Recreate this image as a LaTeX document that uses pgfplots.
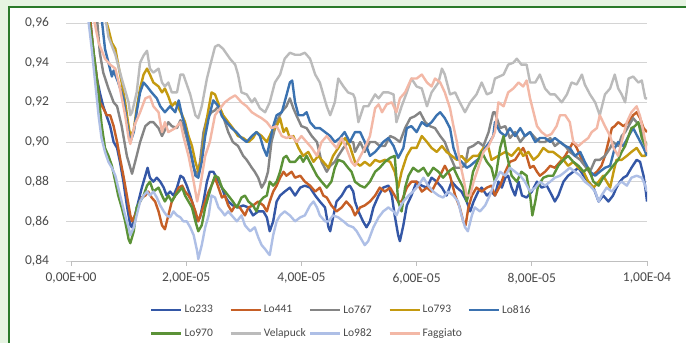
\documentclass[border=0pt]{standalone}
\usepackage{fontspec}
\setmainfont{Carlito}
\usepackage{pgfplots}
\pgfplotsset{compat=1.18}

\definecolor{bggreen}{HTML}{E6F4E2}
\definecolor{framegreen}{HTML}{2A7A2A}
\definecolor{gridgray}{HTML}{D4D4D4}
\definecolor{axisgray}{HTML}{BFBFBF}
\definecolor{labelgray}{HTML}{4A4A4A}
\definecolor{cLoA}{HTML}{3457A6}
\definecolor{cLoB}{HTML}{C65F26}
\definecolor{cLoC}{HTML}{858585}
\definecolor{cLoD}{HTML}{C49A10}
\definecolor{cLoE}{HTML}{3B72B0}
\definecolor{cLoF}{HTML}{5B9237}
\definecolor{cVel}{HTML}{BBBBBB}
\definecolor{cLoG}{HTML}{AEBFE6}
\definecolor{cFag}{HTML}{F3B8A6}

\pgfplotsset{every axis plot/.append style={line width=2.4pt, line join=round, no marks}}

\begin{document}
\begin{tikzpicture}
\useasboundingbox (0pt,0pt) rectangle (686pt,343pt);
\clip (0pt,0pt) rectangle (686pt,343pt);
\fill[bggreen] (0pt,0pt) rectangle (686pt,343pt);
\draw[framegreen, line width=2pt, fill=white] (9pt,-10pt) rectangle (700pt,335.5pt);
\begin{axis}[
  width=576pt, height=238pt, scale only axis,
  at={(71pt,82pt)}, anchor=south west,
  xmin=0, xmax=10, ymin=0.84, ymax=0.96,
  axis x line*=bottom, axis y line*=left,
  y axis line style={draw=none},
  x axis line style={draw=axisgray, line width=0.8pt},
  xtick={0,2,4,6,8,10},
  xticklabels={{0,00E+00},{2,00E-05},{4,00E-05},{6,00E-05},{8,00E-05},{1,00E-04}},
  ytick={0.84,0.86,0.88,0.90,0.92,0.94,0.96},
  yticklabels={{0,84},{0,86},{0,88},{0,90},{0,92},{0,94},{0,96}},
  tick align=outside, major tick length=4.5pt,
  xtick style={draw=axisgray, line width=0.8pt},
  ytick style={draw=gridgray, line width=0.8pt},
  ymajorgrids, grid style={draw=gridgray, line width=0.8pt},
  tick label style={font=\fontsize{13.5}{15}\selectfont, text=labelgray},
  xticklabel style={yshift=-4pt},
  yticklabel style={xshift=-14pt},
  legend columns=5,
  legend cell align=left,
  legend image code/.code={\draw[#1] (0pt,0pt) -- (30pt,0pt);},
  legend style={draw=none, fill=none, inner sep=0pt,
    at={(axis description cs:0.137,-0.177)}, anchor=north west,
    font=\fontsize{11.5}{13}\selectfont, text=labelgray,
    row sep=10pt,
    /tikz/every even column/.append style={column sep=0pt}},
]

% Lo233
\addplot[cLoA] coordinates {
(0,1.0)(0.33,0.963)(0.39,0.945)(0.45,0.932)(0.50,0.925)(0.56,0.918)(0.62,0.913)(0.68,0.908)(0.74,0.900)(0.80,0.897)(0.85,0.890)(0.91,0.880)(0.97,0.868)(1.03,0.858)(1.06,0.857)(1.11,0.863)(1.17,0.870)(1.23,0.877)(1.29,0.883)(1.33,0.887)(1.37,0.882)(1.43,0.880)(1.49,0.882)(1.55,0.880)(1.61,0.877)(1.66,0.873)(1.72,0.875)(1.78,0.873)(1.84,0.877)(1.90,0.883)(1.95,0.882)(2.01,0.878)(2.07,0.873)(2.13,0.867)(2.19,0.860)(2.24,0.862)(2.30,0.870)(2.36,0.880)(2.41,0.885)(2.47,0.885)(2.53,0.882)(2.62,0.877)(2.67,0.873)(2.73,0.870)(2.81,0.868)(2.90,0.867)(2.99,0.868)(3.08,0.867)(3.16,0.863)(3.25,0.865)(3.34,0.865)(3.40,0.862)(3.45,0.855)(3.51,0.860)(3.57,0.870)(3.63,0.873)(3.71,0.875)(3.80,0.877)(3.89,0.873)(3.98,0.877)(4.06,0.878)(4.15,0.877)(4.24,0.873)(4.32,0.870)(4.41,0.867)(4.47,0.857)(4.50,0.855)(4.55,0.862)(4.61,0.870)(4.70,0.873)(4.78,0.877)(4.84,0.878)(4.90,0.875)(4.93,0.870)(4.99,0.865)(5.07,0.860)(5.13,0.857)(5.19,0.860)(5.25,0.867)(5.34,0.873)(5.42,0.877)(5.51,0.878)(5.57,0.873)(5.62,0.863)(5.68,0.853)(5.71,0.850)(5.77,0.858)(5.83,0.868)(5.91,0.873)(6.00,0.880)(6.09,0.878)(6.18,0.877)(6.26,0.882)(6.35,0.880)(6.44,0.877)(6.52,0.873)(6.61,0.880)(6.70,0.877)(6.78,0.875)(6.87,0.870)(6.93,0.865)(6.99,0.870)(7.07,0.875)(7.13,0.877)(7.22,0.873)(7.30,0.875)(7.36,0.873)(7.42,0.880)(7.48,0.877)(7.54,0.882)(7.59,0.883)(7.65,0.877)(7.71,0.873)(7.77,0.880)(7.83,0.873)(7.91,0.872)(8.00,0.875)(8.09,0.880)(8.17,0.877)(8.26,0.878)(8.35,0.873)(8.40,0.870)(8.46,0.873)(8.55,0.880)(8.63,0.883)(8.72,0.885)(8.81,0.887)(8.90,0.883)(8.98,0.880)(9.07,0.877)(9.16,0.870)(9.24,0.873)(9.33,0.870)(9.41,0.873)(9.47,0.877)(9.53,0.880)(9.59,0.882)(9.65,0.883)(9.73,0.887)(9.82,0.891)(9.88,0.890)(9.94,0.883)(9.98,0.875)(10.0,0.870)
};
\addlegendentry{\makebox[43pt][l]{Lo233}}

% Lo441
\addplot[cLoB] coordinates {
(0,1.0)(0.33,0.963)(0.39,0.945)(0.45,0.932)(0.50,0.920)(0.56,0.917)(0.62,0.9135)(0.68,0.9135)(0.74,0.908)(0.80,0.900)(0.85,0.892)(0.91,0.883)(0.97,0.873)(1.03,0.863)(1.06,0.860)(1.11,0.863)(1.17,0.868)(1.23,0.872)(1.29,0.873)(1.34,0.875)(1.40,0.872)(1.46,0.870)(1.52,0.865)(1.58,0.858)(1.63,0.856)(1.69,0.863)(1.75,0.870)(1.81,0.873)(1.87,0.877)(1.93,0.878)(1.98,0.875)(2.04,0.873)(2.10,0.870)(2.16,0.865)(2.21,0.860)(2.27,0.865)(2.33,0.870)(2.39,0.875)(2.44,0.878)(2.50,0.882)(2.56,0.877)(2.62,0.872)(2.67,0.873)(2.73,0.868)(2.79,0.865)(2.85,0.868)(2.93,0.867)(3.02,0.863)(3.08,0.867)(3.16,0.868)(3.25,0.870)(3.34,0.868)(3.40,0.865)(3.45,0.870)(3.51,0.875)(3.57,0.878)(3.63,0.882)(3.69,0.885)(3.74,0.883)(3.83,0.885)(3.89,0.882)(3.98,0.883)(4.06,0.880)(4.15,0.878)(4.24,0.875)(4.32,0.877)(4.38,0.873)(4.44,0.872)(4.52,0.868)(4.61,0.865)(4.70,0.867)(4.78,0.870)(4.87,0.867)(4.93,0.863)(5.02,0.867)(5.10,0.868)(5.19,0.870)(5.28,0.873)(5.36,0.877)(5.45,0.875)(5.54,0.877)(5.62,0.873)(5.68,0.870)(5.74,0.870)(5.83,0.877)(5.91,0.880)(6.00,0.880)(6.09,0.875)(6.18,0.877)(6.26,0.875)(6.35,0.880)(6.44,0.885)(6.49,0.888)(6.58,0.883)(6.67,0.873)(6.75,0.867)(6.81,0.860)(6.85,0.858)(6.90,0.867)(6.96,0.873)(7.04,0.877)(7.13,0.875)(7.22,0.877)(7.30,0.878)(7.36,0.873)(7.45,0.878)(7.54,0.885)(7.62,0.890)(7.71,0.891)(7.80,0.895)(7.85,0.897)(7.91,0.893)(7.97,0.887)(8.03,0.888)(8.09,0.885)(8.14,0.883)(8.23,0.885)(8.32,0.888)(8.40,0.887)(8.49,0.890)(8.58,0.893)(8.66,0.897)(8.72,0.900)(8.78,0.897)(8.87,0.891)(8.95,0.887)(9.04,0.883)(9.13,0.885)(9.21,0.888)(9.27,0.893)(9.33,0.900)(9.39,0.907)(9.44,0.908)(9.50,0.910)(9.59,0.908)(9.68,0.910)(9.76,0.9135)(9.82,0.915)(9.88,0.912)(9.94,0.907)(10.0,0.905)
};
\addlegendentry{\makebox[43pt][l]{Lo441}}

% Lo767
\addplot[cLoC] coordinates {
(0,1.02)(0.45,0.963)(0.50,0.945)(0.56,0.935)(0.65,0.927)(0.74,0.920)(0.80,0.918)(0.88,0.908)(0.97,0.893)(1.06,0.884)(1.14,0.893)(1.20,0.900)(1.29,0.908)(1.37,0.910)(1.43,0.910)(1.52,0.907)(1.58,0.903)(1.63,0.906)(1.69,0.910)(1.75,0.908)(1.84,0.907)(1.90,0.911)(1.95,0.908)(2.01,0.902)(2.07,0.895)(2.13,0.887)(2.19,0.883)(2.24,0.890)(2.30,0.905)(2.36,0.912)(2.44,0.915)(2.50,0.916)(2.56,0.918)(2.64,0.913)(2.73,0.905)(2.81,0.900)(2.90,0.898)(2.99,0.893)(3.05,0.891)(3.14,0.887)(3.19,0.885)(3.25,0.882)(3.31,0.877)(3.37,0.880)(3.42,0.885)(3.48,0.900)(3.57,0.910)(3.65,0.915)(3.74,0.918)(3.80,0.922)(3.86,0.917)(3.92,0.913)(4.00,0.908)(4.09,0.907)(4.18,0.903)(4.27,0.900)(4.35,0.890)(4.44,0.885)(4.50,0.888)(4.58,0.890)(4.64,0.893)(4.73,0.897)(4.81,0.900)(4.90,0.900)(4.93,0.895)(5.02,0.900)(5.10,0.895)(5.19,0.900)(5.28,0.900)(5.36,0.898)(5.45,0.898)(5.54,0.903)(5.62,0.902)(5.71,0.900)(5.80,0.907)(5.89,0.912)(5.97,0.913)(6.06,0.915)(6.15,0.910)(6.23,0.908)(6.32,0.907)(6.41,0.903)(6.49,0.900)(6.58,0.893)(6.67,0.887)(6.75,0.887)(6.84,0.888)(6.90,0.897)(6.98,0.898)(7.07,0.900)(7.16,0.898)(7.25,0.905)(7.33,0.915)(7.36,0.915)(7.45,0.907)(7.54,0.908)(7.62,0.902)(7.71,0.905)(7.80,0.900)(7.88,0.903)(7.97,0.905)(8.06,0.902)(8.14,0.900)(8.23,0.900)(8.32,0.902)(8.40,0.898)(8.49,0.900)(8.58,0.898)(8.66,0.895)(8.75,0.893)(8.84,0.891)(8.92,0.888)(9.01,0.885)(9.10,0.891)(9.18,0.891)(9.27,0.893)(9.36,0.897)(9.41,0.900)(9.50,0.898)(9.56,0.903)(9.62,0.905)(9.68,0.908)(9.76,0.912)(9.82,0.910)(9.88,0.908)(9.94,0.902)(10.0,0.898)
};
\addlegendentry{\makebox[43pt][l]{Lo767}}

% Lo793
\addplot[cLoD] coordinates {
(0,1.03)(0.59,0.963)(0.65,0.957)(0.71,0.950)(0.77,0.947)(0.82,0.939)(0.88,0.930)(0.94,0.920)(1.0,0.908)(1.03,0.903)(1.09,0.906)(1.14,0.917)(1.20,0.927)(1.26,0.934)(1.32,0.937)(1.37,0.934)(1.43,0.930)(1.52,0.928)(1.58,0.925)(1.63,0.927)(1.69,0.923)(1.75,0.918)(1.81,0.920)(1.87,0.917)(1.93,0.9135)(1.98,0.910)(2.04,0.903)(2.10,0.898)(2.16,0.890)(2.21,0.885)(2.27,0.892)(2.33,0.907)(2.39,0.917)(2.44,0.925)(2.50,0.924)(2.59,0.917)(2.64,0.9135)(2.73,0.910)(2.81,0.907)(2.90,0.903)(2.99,0.902)(3.08,0.900)(3.16,0.902)(3.22,0.905)(3.31,0.903)(3.40,0.900)(3.48,0.905)(3.57,0.908)(3.63,0.912)(3.69,0.905)(3.74,0.907)(3.80,0.902)(3.86,0.903)(3.95,0.897)(4.03,0.893)(4.12,0.895)(4.21,0.890)(4.29,0.893)(4.38,0.890)(4.47,0.887)(4.55,0.893)(4.64,0.897)(4.70,0.900)(4.76,0.902)(4.84,0.898)(4.93,0.890)(5.02,0.888)(5.10,0.890)(5.19,0.888)(5.28,0.891)(5.36,0.890)(5.45,0.891)(5.54,0.890)(5.62,0.885)(5.68,0.877)(5.74,0.885)(5.83,0.893)(5.91,0.897)(6.00,0.897)(6.09,0.903)(6.18,0.900)(6.26,0.897)(6.35,0.895)(6.44,0.898)(6.52,0.895)(6.61,0.893)(6.70,0.891)(6.78,0.893)(6.87,0.890)(6.98,0.893)(7.07,0.893)(7.16,0.897)(7.25,0.897)(7.30,0.891)(7.42,0.893)(7.54,0.895)(7.65,0.893)(7.77,0.897)(7.85,0.893)(7.94,0.895)(8.03,0.891)(8.11,0.893)(8.20,0.897)(8.29,0.895)(8.37,0.895)(8.46,0.893)(8.55,0.891)(8.63,0.888)(8.72,0.890)(8.81,0.887)(8.90,0.885)(8.98,0.880)(9.07,0.877)(9.16,0.880)(9.24,0.883)(9.30,0.880)(9.36,0.877)(9.42,0.885)(9.47,0.891)(9.56,0.891)(9.65,0.893)(9.73,0.895)(9.82,0.897)(9.91,0.893)(9.97,0.893)(10.0,0.896)
};
\addlegendentry{\makebox[43pt][l]{Lo793}}

% Lo816
\addplot[cLoE] coordinates {
(0,1.03)(0.53,0.963)(0.59,0.947)(0.65,0.940)(0.71,0.933)(0.74,0.936)(0.82,0.930)(0.91,0.922)(0.97,0.910)(1.03,0.900)(1.09,0.905)(1.14,0.915)(1.20,0.925)(1.26,0.930)(1.32,0.928)(1.40,0.925)(1.49,0.922)(1.55,0.918)(1.63,0.915)(1.72,0.918)(1.81,0.915)(1.87,0.921)(1.93,0.913)(1.98,0.908)(2.04,0.900)(2.10,0.892)(2.16,0.883)(2.21,0.882)(2.27,0.890)(2.33,0.903)(2.39,0.912)(2.47,0.921)(2.56,0.918)(2.62,0.913)(2.70,0.910)(2.79,0.907)(2.87,0.905)(2.96,0.902)(3.05,0.900)(3.14,0.903)(3.22,0.905)(3.28,0.903)(3.34,0.897)(3.40,0.893)(3.45,0.900)(3.51,0.908)(3.57,0.9135)(3.66,0.915)(3.74,0.9235)(3.80,0.930)(3.84,0.931)(3.89,0.920)(3.95,0.9135)(4.03,0.9135)(4.09,0.915)(4.15,0.910)(4.24,0.907)(4.32,0.907)(4.41,0.905)(4.50,0.903)(4.58,0.900)(4.67,0.902)(4.75,0.905)(4.84,0.900)(4.93,0.905)(5.02,0.905)(5.10,0.900)(5.19,0.893)(5.28,0.895)(5.34,0.897)(5.42,0.900)(5.51,0.902)(5.60,0.898)(5.68,0.892)(5.77,0.897)(5.83,0.907)(5.91,0.908)(6.00,0.905)(6.09,0.910)(6.18,0.908)(6.26,0.910)(6.35,0.9135)(6.41,0.915)(6.49,0.912)(6.58,0.907)(6.64,0.897)(6.70,0.892)(6.78,0.890)(6.87,0.887)(6.93,0.888)(7.01,0.890)(7.10,0.892)(7.19,0.897)(7.27,0.900)(7.33,0.903)(7.36,0.910)(7.45,0.905)(7.54,0.903)(7.62,0.907)(7.71,0.903)(7.80,0.907)(7.88,0.903)(7.97,0.905)(8.06,0.900)(8.14,0.902)(8.23,0.902)(8.32,0.900)(8.40,0.902)(8.49,0.900)(8.58,0.898)(8.66,0.897)(8.75,0.893)(8.84,0.895)(8.92,0.890)(9.01,0.885)(9.10,0.883)(9.18,0.885)(9.27,0.887)(9.36,0.888)(9.44,0.897)(9.50,0.900)(9.59,0.898)(9.68,0.903)(9.76,0.907)(9.85,0.902)(9.94,0.897)(10.0,0.893)
};
\addlegendentry{\makebox[43pt][l]{Lo816}}

% Lo970
\addplot[cLoF] coordinates {
(0,1.0)(0.31,0.963)(0.36,0.953)(0.42,0.939)(0.48,0.924)(0.53,0.909)(0.59,0.897)(0.65,0.893)(0.71,0.888)(0.77,0.880)(0.82,0.873)(0.88,0.867)(0.94,0.860)(1.0,0.851)(1.03,0.849)(1.09,0.855)(1.14,0.867)(1.20,0.870)(1.26,0.873)(1.32,0.878)(1.37,0.880)(1.43,0.875)(1.52,0.877)(1.58,0.873)(1.63,0.870)(1.69,0.873)(1.75,0.870)(1.81,0.873)(1.87,0.875)(1.93,0.877)(1.98,0.873)(2.04,0.870)(2.10,0.867)(2.16,0.860)(2.21,0.855)(2.27,0.858)(2.33,0.867)(2.39,0.873)(2.44,0.878)(2.50,0.883)(2.56,0.882)(2.62,0.877)(2.73,0.873)(2.81,0.870)(2.88,0.867)(2.96,0.872)(3.02,0.873)(3.08,0.870)(3.16,0.868)(3.22,0.865)(3.28,0.870)(3.34,0.872)(3.40,0.873)(3.45,0.880)(3.51,0.878)(3.57,0.880)(3.63,0.885)(3.69,0.892)(3.74,0.893)(3.80,0.890)(3.89,0.890)(3.98,0.893)(4.03,0.890)(4.09,0.893)(4.18,0.888)(4.27,0.883)(4.35,0.880)(4.44,0.877)(4.52,0.880)(4.58,0.887)(4.64,0.891)(4.73,0.890)(4.81,0.887)(4.87,0.885)(4.93,0.880)(5.02,0.878)(5.10,0.877)(5.19,0.880)(5.28,0.885)(5.36,0.887)(5.45,0.890)(5.54,0.892)(5.62,0.893)(5.68,0.870)(5.74,0.865)(5.80,0.877)(5.86,0.883)(5.94,0.887)(6.03,0.885)(6.12,0.887)(6.20,0.883)(6.29,0.887)(6.38,0.885)(6.46,0.882)(6.55,0.885)(6.64,0.887)(6.72,0.882)(6.81,0.877)(6.87,0.870)(6.93,0.877)(6.98,0.885)(7.07,0.891)(7.13,0.895)(7.22,0.890)(7.30,0.887)(7.36,0.880)(7.45,0.897)(7.51,0.903)(7.57,0.893)(7.65,0.883)(7.74,0.880)(7.82,0.885)(7.91,0.883)(7.97,0.873)(8.01,0.863)(8.06,0.870)(8.11,0.878)(8.20,0.882)(8.29,0.883)(8.37,0.883)(8.46,0.888)(8.55,0.891)(8.63,0.893)(8.72,0.890)(8.81,0.888)(8.90,0.885)(8.98,0.887)(9.07,0.880)(9.16,0.878)(9.24,0.882)(9.33,0.885)(9.41,0.888)(9.50,0.891)(9.56,0.895)(9.62,0.898)(9.68,0.903)(9.73,0.907)(9.79,0.908)(9.85,0.910)(9.91,0.902)(9.97,0.898)(10.0,0.900)
};
\addlegendentry{\makebox[43pt][l]{Lo970}}

% Velapuck
\addplot[cVel] coordinates {
(0,1.05)(0.60,0.962)(0.65,0.953)(0.77,0.944)(0.88,0.932)(1.0,0.920)(1.03,0.9135)(1.06,0.915)(1.14,0.925)(1.20,0.940)(1.26,0.9436)(1.32,0.946)(1.37,0.937)(1.43,0.935)(1.52,0.937)(1.58,0.930)(1.63,0.928)(1.69,0.930)(1.75,0.925)(1.84,0.925)(1.90,0.934)(1.95,0.934)(2.01,0.929)(2.07,0.924)(2.16,0.9135)(2.21,0.912)(2.27,0.918)(2.36,0.932)(2.42,0.939)(2.50,0.948)(2.56,0.949)(2.64,0.947)(2.76,0.942)(2.85,0.939)(2.90,0.934)(2.96,0.925)(3.05,0.924)(3.14,0.920)(3.19,0.922)(3.28,0.917)(3.37,0.915)(3.45,0.920)(3.54,0.930)(3.63,0.934)(3.71,0.942)(3.80,0.945)(3.89,0.944)(3.98,0.944)(4.06,0.945)(4.15,0.942)(4.24,0.934)(4.32,0.930)(4.38,0.924)(4.44,0.918)(4.50,0.9135)(4.58,0.920)(4.64,0.932)(4.73,0.928)(4.81,0.925)(4.90,0.924)(4.93,0.922)(4.99,0.910)(5.08,0.918)(5.16,0.918)(5.28,0.924)(5.34,0.922)(5.42,0.925)(5.51,0.925)(5.60,0.924)(5.65,0.910)(5.74,0.918)(5.83,0.925)(5.91,0.932)(6.00,0.928)(6.09,0.927)(6.18,0.918)(6.26,0.925)(6.38,0.930)(6.44,0.937)(6.49,0.934)(6.58,0.924)(6.67,0.925)(6.75,0.920)(6.84,0.915)(6.93,0.920)(7.04,0.924)(7.13,0.930)(7.22,0.924)(7.30,0.925)(7.36,0.932)(7.51,0.934)(7.59,0.939)(7.68,0.940)(7.74,0.942)(7.82,0.939)(7.91,0.939)(7.97,0.930)(8.06,0.930)(8.14,0.934)(8.23,0.927)(8.32,0.924)(8.40,0.924)(8.52,0.920)(8.61,0.924)(8.69,0.930)(8.78,0.929)(8.87,0.934)(8.92,0.929)(9.01,0.924)(9.10,0.920)(9.18,0.9135)(9.27,0.924)(9.36,0.927)(9.44,0.934)(9.50,0.927)(9.56,0.924)(9.62,0.920)(9.68,0.932)(9.76,0.933)(9.85,0.930)(9.91,0.931)(9.97,0.922)(10.0,0.922)
};
\addlegendentry{\makebox[43pt][l]{Velapuck}}

% Lo982
\addplot[cLoG] coordinates {
(0,1.0)(0.30,0.962)(0.36,0.947)(0.42,0.930)(0.48,0.913)(0.53,0.902)(0.59,0.895)(0.65,0.890)(0.71,0.887)(0.77,0.883)(0.82,0.877)(0.88,0.870)(0.94,0.863)(1.0,0.857)(1.03,0.853)(1.09,0.857)(1.14,0.863)(1.20,0.870)(1.26,0.873)(1.32,0.875)(1.37,0.873)(1.43,0.875)(1.49,0.872)(1.55,0.868)(1.61,0.865)(1.66,0.863)(1.72,0.862)(1.78,0.865)(1.84,0.863)(1.90,0.862)(1.95,0.860)(2.01,0.860)(2.07,0.857)(2.13,0.853)(2.19,0.845)(2.21,0.841)(2.27,0.848)(2.33,0.857)(2.39,0.863)(2.44,0.873)(2.50,0.872)(2.56,0.867)(2.62,0.865)(2.67,0.863)(2.73,0.865)(2.79,0.863)(2.88,0.860)(2.96,0.863)(3.02,0.858)(3.11,0.855)(3.19,0.857)(3.25,0.852)(3.31,0.848)(3.37,0.846)(3.42,0.844)(3.45,0.843)(3.51,0.853)(3.57,0.860)(3.63,0.863)(3.71,0.865)(3.80,0.863)(3.89,0.860)(3.98,0.862)(4.06,0.863)(4.15,0.868)(4.21,0.870)(4.27,0.867)(4.32,0.863)(4.41,0.860)(4.47,0.860)(4.55,0.863)(4.64,0.862)(4.73,0.860)(4.81,0.858)(4.90,0.857)(4.96,0.855)(5.02,0.852)(5.10,0.848)(5.16,0.850)(5.25,0.857)(5.34,0.862)(5.42,0.865)(5.51,0.867)(5.60,0.865)(5.65,0.863)(5.71,0.867)(5.77,0.870)(5.86,0.873)(5.94,0.875)(6.03,0.878)(6.12,0.882)(6.20,0.878)(6.29,0.875)(6.38,0.873)(6.46,0.872)(6.55,0.875)(6.64,0.873)(6.72,0.870)(6.78,0.863)(6.84,0.857)(6.89,0.855)(6.96,0.863)(7.01,0.867)(7.10,0.865)(7.19,0.868)(7.27,0.873)(7.36,0.880)(7.45,0.885)(7.54,0.883)(7.62,0.887)(7.71,0.885)(7.80,0.883)(7.88,0.880)(7.97,0.875)(8.06,0.877)(8.14,0.880)(8.23,0.878)(8.32,0.880)(8.40,0.882)(8.49,0.883)(8.58,0.885)(8.66,0.887)(8.75,0.885)(8.84,0.883)(8.92,0.880)(9.01,0.878)(9.10,0.875)(9.16,0.870)(9.21,0.873)(9.30,0.877)(9.39,0.875)(9.47,0.878)(9.56,0.880)(9.65,0.878)(9.73,0.882)(9.82,0.883)(9.91,0.882)(9.97,0.878)(10.0,0.875)
};
\addlegendentry{\makebox[43pt][l]{Lo982}}

% Faggiato
\addplot[cFag] coordinates {
(0,1.03)(0.39,0.963)(0.48,0.950)(0.59,0.942)(0.68,0.939)(0.77,0.937)(0.85,0.927)(0.94,0.9135)(1.0,0.902)(1.03,0.899)(1.11,0.909)(1.20,0.915)(1.29,0.922)(1.37,0.923)(1.43,0.918)(1.52,0.915)(1.58,0.905)(1.63,0.910)(1.69,0.905)(1.81,0.907)(1.90,0.910)(1.95,0.903)(2.04,0.893)(2.13,0.880)(2.19,0.870)(2.24,0.877)(2.33,0.893)(2.41,0.900)(2.50,0.9135)(2.59,0.917)(2.67,0.920)(2.76,0.922)(2.85,0.9235)(2.90,0.922)(2.96,0.920)(3.05,0.918)(3.14,0.915)(3.22,0.9135)(3.31,0.912)(3.40,0.910)(3.48,0.907)(3.57,0.908)(3.66,0.903)(3.74,0.902)(3.83,0.903)(3.92,0.900)(4.00,0.903)(4.09,0.900)(4.18,0.897)(4.27,0.893)(4.35,0.900)(4.44,0.903)(4.52,0.900)(4.61,0.897)(4.70,0.902)(4.78,0.897)(4.87,0.890)(4.93,0.888)(4.99,0.891)(5.10,0.897)(5.19,0.903)(5.28,0.917)(5.34,0.919)(5.40,0.915)(5.48,0.919)(5.57,0.920)(5.65,0.915)(5.71,0.922)(5.80,0.925)(5.91,0.932)(6.00,0.932)(6.09,0.934)(6.18,0.930)(6.26,0.928)(6.32,0.932)(6.41,0.930)(6.49,0.925)(6.58,0.917)(6.64,0.908)(6.70,0.900)(6.75,0.890)(6.81,0.882)(6.87,0.873)(6.93,0.873)(6.99,0.880)(7.07,0.887)(7.16,0.895)(7.25,0.898)(7.33,0.903)(7.36,0.905)(7.42,0.920)(7.51,0.918)(7.59,0.925)(7.68,0.927)(7.77,0.930)(7.85,0.928)(7.91,0.931)(7.97,0.922)(8.03,0.915)(8.09,0.908)(8.17,0.905)(8.26,0.903)(8.34,0.904)(8.43,0.908)(8.49,0.9135)(8.58,0.9135)(8.66,0.910)(8.72,0.900)(8.81,0.898)(8.89,0.900)(8.98,0.902)(9.04,0.905)(9.13,0.907)(9.18,0.9135)(9.27,0.908)(9.36,0.903)(9.42,0.897)(9.50,0.893)(9.56,0.900)(9.65,0.910)(9.73,0.915)(9.82,0.918)(9.88,0.913)(9.94,0.905)(10.0,0.895)
};
\addlegendentry{\makebox[43pt][l]{Faggiato}}

\end{axis}
\end{tikzpicture}
\end{document}
